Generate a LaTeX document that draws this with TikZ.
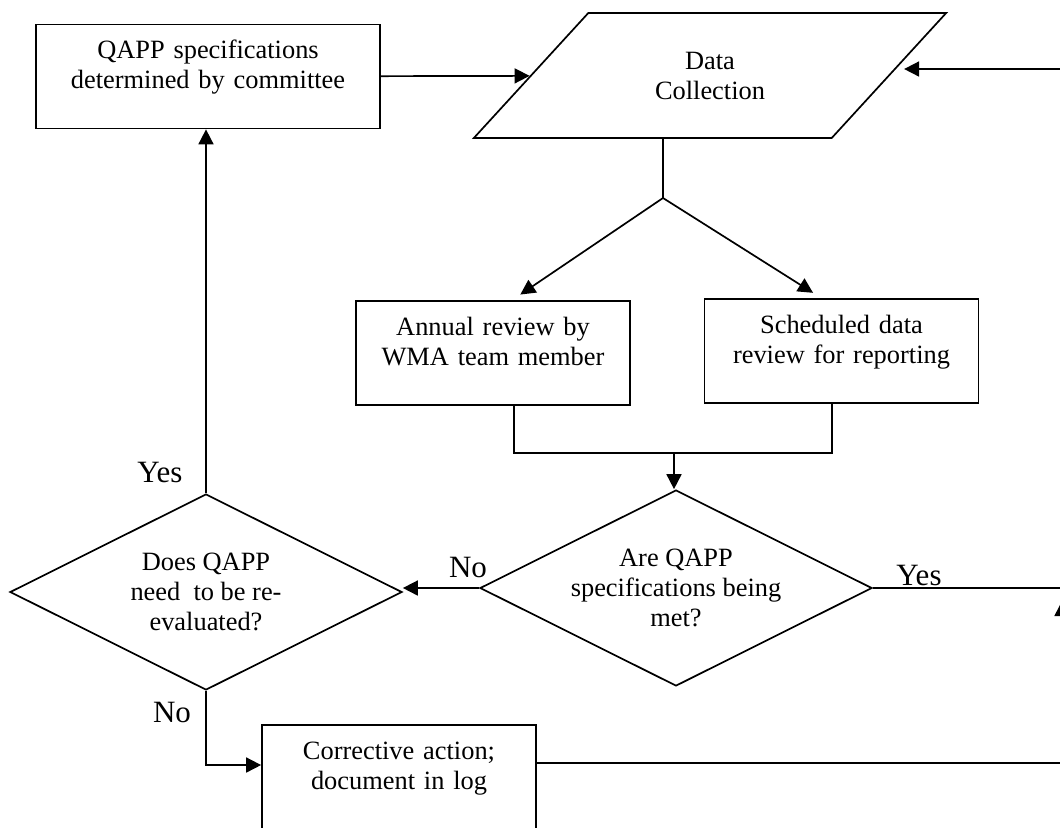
\documentclass[tikz,border=0pt]{standalone}
\usepackage{fontspec}
\setmainfont{Liberation Serif}
\usetikzlibrary{arrows.meta,shapes.geometric,calc}

\begin{document}
\begin{tikzpicture}[x=0.5pt,y=-0.5pt,line width=0.85pt,
	>={Triangle[length=7.5pt,width=7.5pt]},
	box/.style={draw, rectangle, align=center, text width=137pt, inner xsep=0pt, inner ysep=3pt,
		text height=14pt, text depth=32pt, font=\fontsize{13.2}{15}\selectfont},
	wide/.style={box, text width=172pt},
	decide/.style={draw, diamond, aspect=2, minimum width=196pt, minimum height=98pt, inner sep=0pt,
		align=center, font=\fontsize{13.2}{15}\selectfont},
	io/.style={draw, trapezium, trapezium left angle=46.4, trapezium right angle=133.6,
		trapezium stretches=true, minimum width=236.5pt, minimum height=62.5pt,
		align=center, font=\fontsize{13.2}{15}\selectfont},
	lbl/.style={font=\fontsize{15.5}{18}\selectfont, inner sep=0pt}]
\useasboundingbox (0,0) rectangle (1060,827);
\clip (0,0) rectangle (1060,827);
%boxes
\node[wide] (qapp) at (208,76.5) {QAPP specifications\\determined by committee};
\node[io] (collect) at (710,75.5) {Data\\Collection};
\node[box] (annual) at (493,353) {Annual review by\\WMA team member};
\node[box] (sched) at (841.5,351) {Scheduled data\\review for reporting};
\node[decide] (met) at (676,588) {Are QAPP\\specifications being\\met?};
\node[decide] (reeval) at (206,592) {Does QAPP\\need~ to be re-\\evaluated?};
\node[box] (fix) at (399,777) {Corrective action;\\document in log};
%points
\coordinate (split) at (663,198);
\coordinate (ja) at (514,453);
\coordinate (jb) at (832,453);
\coordinate (join) at (674,453);
\coordinate (backin) at (1075,69);
\coordinate (yesout) at (1075,588);
\coordinate (fixout) at (1075,763);
\coordinate (up1) at (1062,700);
\coordinate (up2) at (1062,601);
%lines
\draw[->] (qapp) -- (collect);
\draw (split |- collect.south) -- (split);
\draw[->,shorten >=5pt] (split) -- ([xshift=9.5pt]annual.north);
\draw[->,shorten >=5pt] (split) -- ([xshift=-10pt]sched.north);
\draw (annual.south -| ja) -- (ja) -- (jb) -- (sched.south -| jb);
\draw[->] (join) -- (join |- met.north);
\draw[->] (met.west) -- (met.west -| reeval.east);
\draw[->] (reeval.north) -- (reeval.north |- qapp.south);
\draw[->] (reeval.south) |- ([yshift=6pt]fix.west);
\draw ([yshift=7pt]fix.east) -- (fixout);
\draw (met.east) -- (yesout);
\draw[->,shorten >=7pt] (backin) -- (backin -| collect.east);
\draw[->] (up1) -- (up2);
%labels
\node[lbl] (no1) at (468,567) {No};
\node[lbl] (yes1) at (160,472) {Yes};
\node[lbl] (no2) at (172,712) {No};
\node[lbl] (yes2) at (919,575) {Yes};
\end{tikzpicture}
\end{document}
